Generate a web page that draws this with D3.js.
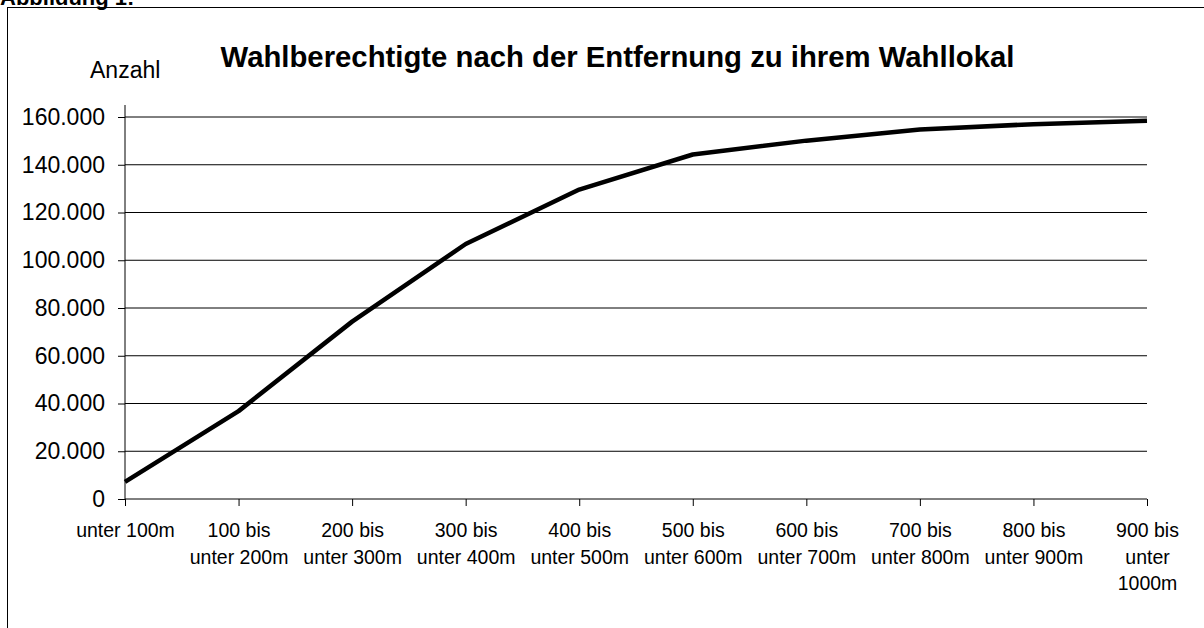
<!DOCTYPE html>
<html>
<head>
<meta charset="utf-8">
<script src="https://cdn.jsdelivr.net/npm/d3@7"></script>
<style>
  html, body { margin: 0; padding: 0; background: #fff; }
  svg text { font-family: "Liberation Sans", Arial, sans-serif; fill: #000; }
</style>
</head>
<body>
<svg class="grafico"></svg>
<script>
// data
const categorias = ["unter 100m", "100 bis unter 200m", "200 bis unter 300m", "300 bis unter 400m",
  "400 bis unter 500m", "500 bis unter 600m", "600 bis unter 700m", "700 bis unter 800m",
  "800 bis unter 900m", "900 bis unter 1000m"];

// the labels get wrapped like in the original
const rotulos = [["unter 100m"], ["100 bis", "unter 200m"], ["200 bis", "unter 300m"],
  ["300 bis", "unter 400m"], ["400 bis", "unter 500m"], ["500 bis", "unter 600m"],
  ["600 bis", "unter 700m"], ["700 bis", "unter 800m"], ["800 bis", "unter 900m"],
  ["900 bis", "unter", "1000m"]];

const valores = [7200, 36800, 74300, 106800, 129600, 144300, 150100, 154800, 157000, 158400];

const ticks_y = [0, 20000, 40000, 60000, 80000, 100000, 120000, 140000, 160000];

const w = 1204;
const h = 628;

const $svg = d3.select('.grafico')
  .attr('width', w)
  .attr('height', h);

// german number format: 160.000
const fmt = d3.formatLocale({ decimal: ",", thousands: ".", grouping: [3], currency: ["", "€"] }).format(",d");

// plot area
const x = d3.scalePoint()
  .domain(categorias)
  .range([125, 1147]);

const y = d3.scaleLinear()
  .domain([0, 160000])
  .range([499, 117]);

// "Abbildung 1:" is cut at the top in the original too
$svg.append('text')
  .attr('x', 0)
  .attr('y', 5)
  .style('font-size', '22px')
  .style('font-weight', 'bold')
  .text('Abbildung 1:');

// the frame goes out of the picture on the right and bottom
$svg.append('rect')
  .attr('x', 7.5)
  .attr('y', 7.5)
  .attr('width', 1400)
  .attr('height', 1000)
  .attr('fill', 'none')
  .attr('stroke', '#000')
  .attr('stroke-width', 1);

$svg.append('text')
  .attr('x', 617.5)
  .attr('y', 66.5)
  .attr('text-anchor', 'middle')
  .style('font-size', '29.3px')
  .style('font-weight', 'bold')
  .text('Wahlberechtigte nach der Entfernung zu ihrem Wahllokal');

$svg.append('text')
  .attr('x', 90)
  .attr('y', 78)
  .style('font-size', '23px')
  .text('Anzahl');

// gridlines
$svg.append('g')
  .selectAll('line')
  .data(ticks_y.filter(d => d > 0))
  .join('line')
  .attr('x1', 125)
  .attr('x2', 1147)
  .attr('y1', d => y(d))
  .attr('y2', d => y(d))
  .attr('stroke', '#000')
  .attr('stroke-width', 1);

// y axis
const eixo_y = d3.axisLeft(y)
  .tickValues(ticks_y)
  .tickFormat(fmt)
  .tickSize(7)
  .tickPadding(13);

const $gy = $svg.append('g')
  .attr('transform', 'translate(125,0)')
  .call(eixo_y);

$gy.select('.domain')
  .attr('d', `M0,105V${y(0)}`)
  .attr('stroke', '#000');

$gy.selectAll('text')
  .style('font-size', '23px')
  .attr('fill', '#000');

// x axis
const eixo_x = d3.axisBottom(x)
  .tickSize(7)
  .tickFormat('');

const $gx = $svg.append('g')
  .attr('transform', `translate(0,${y(0)})`)
  .call(eixo_x);

$gx.select('.domain')
  .attr('d', `M125,0H1147`)
  .attr('stroke', '#000');

// category labels, wrapped
$gx.selectAll('.tick')
  .append('text')
  .attr('text-anchor', 'middle')
  .style('font-size', '19.5px')
  .selectAll('tspan')
  .data((d, i) => rotulos[i])
  .join('tspan')
  .attr('x', 0)
  .attr('y', (d, i) => 38 + i * 26.5)
  .text(d => d);

// the line itself
const linha = d3.line()
  .x((d, i) => x(categorias[i]))
  .y(d => y(d));

$svg.append('path')
  .datum(valores)
  .attr('d', linha)
  .attr('fill', 'none')
  .attr('stroke', '#000')
  .attr('stroke-width', 4.5)
  .attr('stroke-linejoin', 'round');
</script>
</body>
</html>
